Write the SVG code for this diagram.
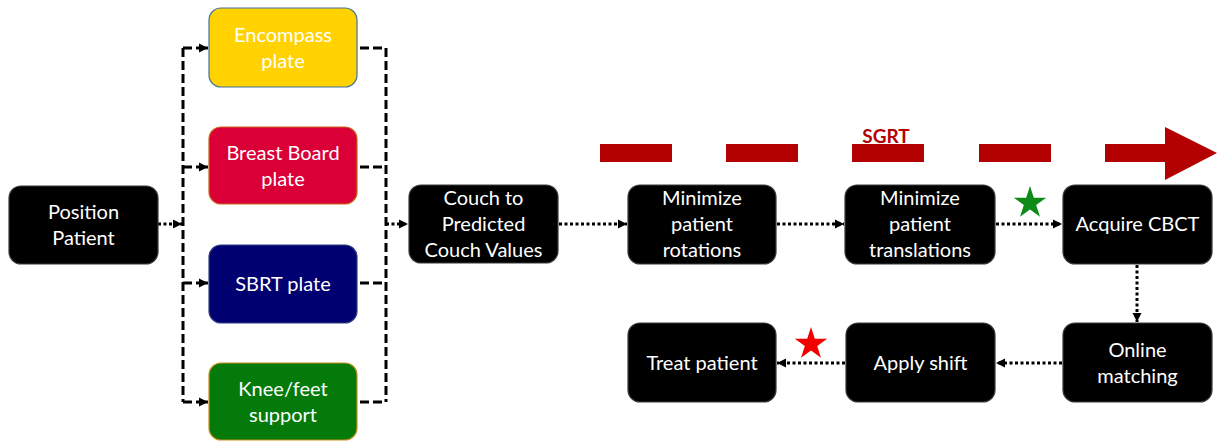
<svg xmlns="http://www.w3.org/2000/svg" width="1217" height="443" viewBox="0 0 1217 443">
<style>
.box{stroke-width:1.2}
.blk{fill:#000;stroke:#3a3a3a}
.t{font-family:Lato,"Open Sans","Liberation Sans",sans-serif;font-size:20px;fill:#fff;text-anchor:middle}
.dot{fill:none;stroke:#000;stroke-width:3;stroke-dasharray:3 2.5}
.dash{fill:none;stroke:#000;stroke-width:3;stroke-dasharray:9 4}
.dd{fill:none;stroke:#000;stroke-width:3;stroke-dasharray:9 4 3 4}
.sgrt{fill:#B30000}
</style>
<defs>
<marker id="ah" markerUnits="userSpaceOnUse" markerWidth="10" markerHeight="10" refX="9" refY="5" orient="auto">
<path d="M0,0.5 L9,5 L0,9.5 z" fill="#000"/>
</marker>
<polygon id="star" points="0,-17 3.82,-5.26 16.17,-5.25 6.18,2.01 9.99,13.75 0,6.5 -9.99,13.75 -6.18,2.01 -16.17,-5.25 -3.82,-5.26"/>
</defs>

<g id="sgrt-arrow">
<rect class="sgrt" x="600" y="144" width="72" height="18"/>
<rect class="sgrt" x="726" y="144" width="72" height="18"/>
<rect class="sgrt" x="852" y="144" width="72" height="18"/>
<rect class="sgrt" x="979" y="144" width="72" height="18"/>
<rect class="sgrt" x="1105" y="144" width="62" height="18"/>
<polygon class="sgrt" points="1165,127 1217,153 1165,180"/>
<text x="886" y="142.5" font-family="Lato,'Open Sans','Liberation Sans',sans-serif" font-size="19" font-weight="bold" fill="#B30000" text-anchor="middle">SGRT</text>
</g>

<g id="connectors">
<path class="dot" d="M158,224 H182" marker-end="url(#ah)"/>
<path class="dash" d="M183,48 V402"/>
<path class="dd" d="M183,48 H208" marker-end="url(#ah)"/>
<path class="dd" d="M183,167 H208" marker-end="url(#ah)"/>
<path class="dd" d="M183,283 H208" marker-end="url(#ah)"/>
<path class="dd" d="M183,402 H208" marker-end="url(#ah)"/>
<path class="dash" d="M360,48 H386 V402"/>
<path class="dash" d="M360,167 H386"/>
<path class="dash" d="M360,283 H386"/>
<path class="dash" d="M360,402 H386"/>
<path class="dot" d="M386,224 H408" marker-end="url(#ah)"/>
<path class="dot" d="M559,224 H627" marker-end="url(#ah)"/>
<path class="dot" d="M777,224 H844" marker-end="url(#ah)"/>
<path class="dot" d="M996,224 H1062" marker-end="url(#ah)"/>
<path class="dot" d="M1137,265 V322" marker-end="url(#ah)"/>
<path class="dot" d="M1062,363 H996" marker-end="url(#ah)"/>
<path class="dot" d="M845,363 H777" marker-end="url(#ah)"/>
</g>

<g id="position-patient">
<rect class="box blk" x="9" y="186" width="149" height="78" rx="12"/>
<text class="t" x="83.5" y="219">Position</text>
<text class="t" x="83.5" y="245">Patient</text>
</g>
<g id="encompass-plate">
<rect class="box" x="209" y="8" width="148" height="79" rx="12" fill="#FFD200" stroke="#41719C"/>
<text class="t" x="283" y="42">Encompass</text>
<text class="t" x="283" y="68">plate</text>
</g>
<g id="breast-board-plate">
<rect class="box" x="209" y="127" width="148" height="77" rx="12" fill="#DA0037" stroke="#C8651B"/>
<text class="t" x="283" y="160">Breast Board</text>
<text class="t" x="283" y="186">plate</text>
</g>
<g id="sbrt-plate">
<rect class="box" x="209" y="245" width="148" height="78" rx="12" fill="#000070" stroke="#2F3F80"/>
<text class="t" x="283" y="291">SBRT plate</text>
</g>
<g id="knee-feet-support">
<rect class="box" x="209" y="363" width="148" height="77" rx="12" fill="#047A0B" stroke="#C8901B"/>
<text class="t" x="283" y="396">Knee/feet</text>
<text class="t" x="283" y="422">support</text>
</g>
<g id="couch-predicted">
<rect class="box blk" x="409" y="185" width="149" height="78" rx="12"/>
<text class="t" x="483.5" y="205">Couch to</text>
<text class="t" x="483.5" y="231">Predicted</text>
<text class="t" x="483.5" y="257">Couch Values</text>
</g>
<g id="minimize-rotations">
<rect class="box blk" x="628" y="185" width="148" height="79" rx="12"/>
<text class="t" x="702" y="205">Minimize</text>
<text class="t" x="702" y="231">patient</text>
<text class="t" x="702" y="257">rotations</text>
</g>
<g id="minimize-translations">
<rect class="box blk" x="845" y="185" width="150" height="79" rx="12"/>
<text class="t" x="920" y="205">Minimize</text>
<text class="t" x="920" y="231">patient</text>
<text class="t" x="920" y="257">translations</text>
</g>
<g id="acquire-cbct">
<rect class="box blk" x="1063" y="185" width="149" height="79" rx="12"/>
<text class="t" x="1137.5" y="231">Acquire CBCT</text>
</g>
<g id="online-matching">
<rect class="box blk" x="1063" y="323" width="149" height="79" rx="12"/>
<text class="t" x="1137.5" y="357">Online</text>
<text class="t" x="1137.5" y="383">matching</text>
</g>
<g id="apply-shift">
<rect class="box blk" x="846" y="323" width="149" height="79" rx="12"/>
<text class="t" x="920.5" y="370">Apply shift</text>
</g>
<g id="treat-patient">
<rect class="box blk" x="628" y="323" width="148" height="79" rx="12"/>
<text class="t" x="702" y="370">Treat patient</text>
</g>

<g id="stars">
<use href="#star" x="1030" y="203" fill="#0E8A16"/>
<use href="#star" x="811" y="344" fill="#F00000"/>
</g>
</svg>
